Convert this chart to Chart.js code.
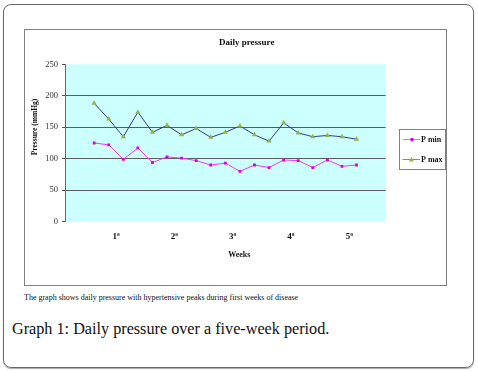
<!DOCTYPE html>
<html>
<head>
<meta charset="utf-8">
<script src="https://cdn.jsdelivr.net/npm/chart.js@4.4.1/dist/chart.umd.min.js"></script>
<style>
    body { margin: 0; background: #fff; width: 478px; height: 371px; position: relative; overflow: hidden; }
    #frame { position: absolute; left: 3px; top: 4px; width: 469px; height: 362px; border: 1px solid #6b6b6b; border-radius: 8px; box-shadow: 0 1px 1px rgba(0,0,0,0.35); }
    #box { position: absolute; left: 24px; top: 29px; width: 421px; height: 255px; border: 1px solid #808080; }
    #box canvas { display: block; }
    .serif { font-family: "Liberation Serif", "DejaVu Serif", serif; }
    #note { position: absolute; left: 24px; top: 293px; font-size: 8px; color: #111; white-space: nowrap; }
    #caption { position: absolute; left: 12px; top: 320px; font-size: 16.2px; color: #111; white-space: nowrap; }
</style>
</head>
<body>
<div id="frame"></div>
<div id="box"><canvas id="pressure_chart" width="421" height="255"></canvas></div>
<div id="note" class="serif">The graph shows daily pressure with hypertensive peaks during first weeks of disease</div>
<div id="caption" class="serif">Graph 1: Daily pressure over a five-week period.</div>

<script>
// Data
const days = [1, 2, 3, 4, 5, 6, 7, 8, 9, 10, 11, 12, 13, 14, 15, 16, 17, 18, 19];
const pMin = [125, 122, 99, 117, 94, 103, 101, 97, 90, 93, 80, 90, 86, 98, 97, 86, 98, 88, 90];
const pMax = [188, 163, 135, 174, 142, 153, 138, 148, 134, 142, 152, 138, 128, 157, 141, 135, 137, 135, 131];
const weekLabels = ['1ª', '2ª', '3ª', '4ª', '5ª'];
const weekTicks = [2.5, 6.5, 10.5, 14.5, 18.5];

// Cyan plot background plus title, axis titles and the boxed legend
const decorations = {
    id: 'decorations',
    beforeDraw(chart) {
        const { ctx, chartArea: a } = chart;
        ctx.save();
        ctx.fillStyle = '#ccffff';
        ctx.fillRect(a.left, a.top, a.right - a.left, a.bottom - a.top);
        ctx.restore();
    },
    afterDraw(chart) {
        const ctx = chart.ctx;
        ctx.save();
        ctx.fillStyle = '#111';
        ctx.textAlign = 'center';
        ctx.textBaseline = 'middle';

        ctx.font = 'bold 9px "Liberation Serif"';
        ctx.fillText('Daily pressure', 221.7, 12.5);

        ctx.font = 'bold 8px "Liberation Serif"';
        ctx.fillText('Weeks', 214.3, 225);

        ctx.save();
        ctx.translate(10, 97);
        ctx.rotate(-Math.PI / 2);
        ctx.font = 'bold 7.5px "Liberation Serif"';
        ctx.fillText('Pressure (mmHg)', 0, 0);
        ctx.restore();

        // legend
        ctx.strokeStyle = '#808080';
        ctx.lineWidth = 1;
        ctx.strokeRect(374.5, 99.5, 46, 40);
        ctx.textAlign = 'left';
        ctx.font = 'bold 8px "Liberation Serif"';
        chart.data.datasets.forEach((ds, i) => {
            const y = 109.5 + i * 20;
            ctx.strokeStyle = ds.legendLine;
            ctx.beginPath();
            ctx.moveTo(377.5, y);
            ctx.lineTo(395, y);
            ctx.stroke();
            ctx.fillStyle = ds.pointBackgroundColor;
            ctx.beginPath();
            if (ds.pointStyle === 'rect') {
                ctx.rect(385.5, y - 1.5, 3, 3);
            } else {
                ctx.moveTo(386.5, y - 2.5);
                ctx.lineTo(389, y + 2);
                ctx.lineTo(384, y + 2);
                ctx.closePath();
            }
            ctx.fill();
            ctx.fillStyle = '#111';
            ctx.fillText(ds.label, 396, y + 0.5);
        });
        ctx.restore();
    }
};

const ctx = document.getElementById('pressure_chart').getContext('2d');

new Chart(ctx, {
    type: 'line',
    data: {
        datasets: [{
            label: 'P min',
            data: days.map((d, i) => ({ x: d, y: pMin[i] })),
            borderColor: '#ff33ff',
            legendLine: '#ff66ff',
            borderWidth: 1,
            pointStyle: 'rect',
            pointRadius: 2,
            pointBorderWidth: 0,
            pointBackgroundColor: '#dd00dd',
            tension: 0
        }, {
            label: 'P max',
            data: days.map((d, i) => ({ x: d, y: pMax[i] })),
            borderColor: '#2e3c99',
            legendLine: '#7f7fcc',
            borderWidth: 1,
            pointStyle: 'triangle',
            pointRadius: 3,
            pointBorderWidth: 0,
            pointBackgroundColor: '#98b43c',
            tension: 0
        }]
    },
    options: {
        responsive: false,
        animation: false,
        layout: {
            padding: { left: 0, top: 34.3, right: 60.3, bottom: 43.3 }
        },
        plugins: {
            legend: { display: false },
            title: { display: false },
            tooltip: { enabled: false }
        },
        scales: {
            x: {
                type: 'linear',
                min: -1,
                max: 21,
                afterBuildTicks: (scale) => {
                    scale.ticks = weekTicks.map(v => ({ value: v }));
                },
                afterFit: (scale) => { scale.height = 20; },
                grid: { display: false },
                border: { display: false },
                ticks: {
                    autoSkip: false,
                    maxRotation: 0,
                    padding: 2,
                    color: '#111',
                    font: { family: 'Liberation Serif', size: 9, weight: 'bold' },
                    callback: (v, i) => weekLabels[i]
                }
            },
            y: {
                min: 0,
                max: 250,
                afterFit: (scale) => { scale.width = 40; },
                grid: {
                    color: (c) => (c.tick.value === 0 || c.tick.value === 250) ? 'rgba(0,0,0,0)' : '#5c5c5c',
                    tickColor: '#555',
                    tickLength: 3
                },
                border: { display: true, color: '#666' },
                ticks: {
                    stepSize: 50,
                    padding: 4,
                    color: '#333',
                    font: { family: 'Liberation Serif', size: 8.5 }
                }
            }
        }
    },
    plugins: [decorations]
});
</script>
</body>
</html>
